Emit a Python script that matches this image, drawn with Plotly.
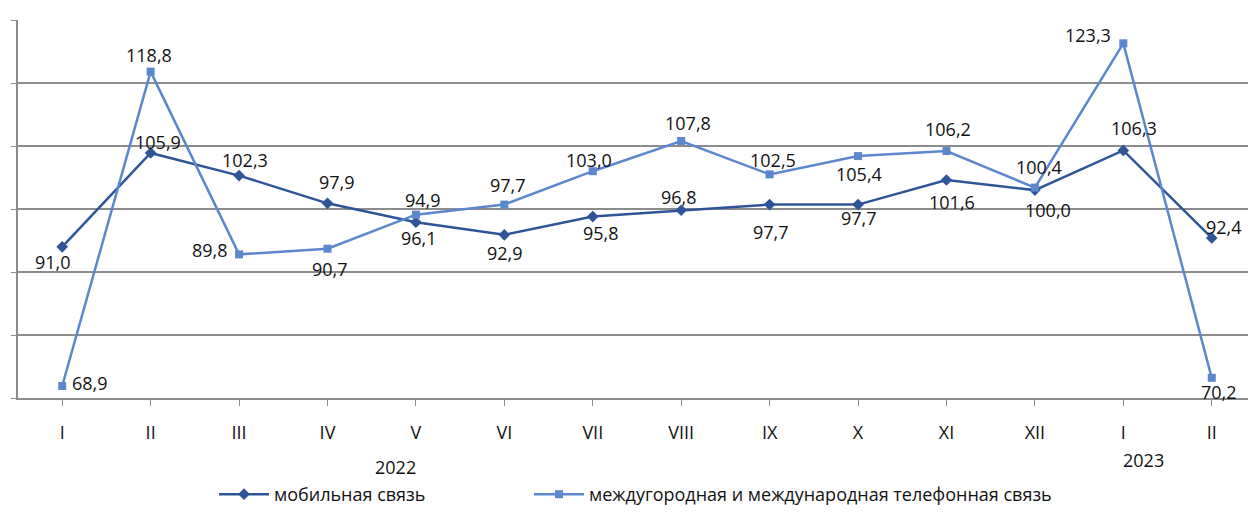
import plotly.graph_objects as go

months = ["I", "II", "III", "IV", "V", "VI", "VII", "VIII", "IX", "X", "XI", "XII", "I", "II"]
mobile = [91.0, 105.9, 102.3, 97.9, 94.9, 92.9, 95.8, 96.8, 97.7, 97.7, 101.6, 100.0, 106.3, 92.4]
longdist = [68.9, 118.8, 89.8, 90.7, 96.1, 97.7, 103.0, 107.8, 102.5, 105.4, 106.2, 100.4, 123.3, 70.2]
years = ["2022", "2023"]
series_names = ["мобильная связь", "междугородная и международная телефонная связь"]

# label offsets in pixels (dx, dy downwards)
mobile_off = [(-9, 15), (7, -11), (6, -16), (10, -21), (7, -22), (1, 18), (8, 16),
              (-2, -13), (1, 27), (1, 13), (6, 22), (13, 20), (11, -22), (12, -11)]
long_off = [(28, -3), (-2, -17), (-29, -4), (3, 20), (3, 23), (4, -20), (-4, -11),
            (7, -18), (3, -14), (1, 18), (2, -22), (4, -21), (-35, -8), (7, 14)]

C_MOB = "#2E5597"
C_LONG = "#5B87CC"
FONT = "Open Sans"
TXT = "#111111"
GRID = "#8c8c8c"

W, H = 1248, 513
ML, MT, MB = 18, 20, 115
PH = H - MT - MB

x = list(range(len(months)))

fig = go.Figure()
fig.add_trace(go.Scatter(x=x, y=mobile, mode="lines+markers", name=series_names[0],
                         line=dict(color=C_MOB, width=2.5),
                         marker=dict(symbol="diamond", size=9, color=C_MOB),
                         legend="legend"))
fig.add_trace(go.Scatter(x=x, y=longdist, mode="lines+markers", name=series_names[1],
                         line=dict(color=C_LONG, width=2.5),
                         marker=dict(symbol="square", size=8, color=C_LONG),
                         legend="legend2"))

def fmt(v):
    return f"{v:.1f}".replace(".", ",")

for vals, offs in ((mobile, mobile_off), (longdist, long_off)):
    for i, (v, (dx, dy)) in enumerate(zip(vals, offs)):
        fig.add_annotation(x=i, y=v, text=fmt(v), showarrow=False,
                           xshift=dx, yshift=-dy, xanchor="center", yanchor="middle",
                           font=dict(family=FONT, size=18, color=TXT))

def px_x(p):
    return (p - ML) / (W - ML)

def px_y(p):
    return (H - MB - p) / PH

# year labels
fig.add_annotation(x=px_x(395), y=px_y(467), xref="paper", yref="paper",
                   xanchor="center", yanchor="middle",
                   text=years[0], showarrow=False, font=dict(family=FONT, size=18, color=TXT))
fig.add_annotation(x=px_x(1143), y=px_y(460), xref="paper", yref="paper",
                   xanchor="center", yanchor="middle",
                   text=years[1], showarrow=False, font=dict(family=FONT, size=18, color=TXT))

leg_common = dict(orientation="h", xanchor="left", yanchor="bottom",
                  xref="container", yref="container",
                  font=dict(family=FONT, size=18, color=TXT),
                  itemwidth=50, bgcolor="rgba(0,0,0,0)")

fig.update_layout(
    width=W, height=H,
    margin=dict(l=ML, r=0, t=MT, b=MB, autoexpand=False),
    plot_bgcolor="white", paper_bgcolor="white",
    font=dict(family=FONT, size=18, color=TXT),
    showlegend=True,
    legend=dict(x=214 / W, y=-0.008, **leg_common),
    legend2=dict(x=529 / W, y=-0.008, **leg_common),
)
fig.update_xaxes(range=[-0.5, 13.41], tickmode="array", tickvals=x, ticktext=months,
                 tickson="boundaries", ticks="outside", ticklen=6, tickcolor=GRID,
                 showline=True, linecolor=GRID, linewidth=1.5, showgrid=False,
                 zeroline=False, ticklabelstandoff=12,
                 tickfont=dict(family=FONT, size=18, color=TXT))
fig.update_yaxes(range=[67, 127], tick0=67, dtick=10, showticklabels=False,
                 ticks="outside", ticklen=5, tickcolor=GRID,
                 showline=True, linecolor=GRID, linewidth=1.5,
                 showgrid=True, gridcolor=GRID, gridwidth=1.5, zeroline=False)

fig.write_html("out.html", config={"displayModeBar": False},
               post_script="document.body.style.margin='0';document.body.style.overflow='hidden';")
